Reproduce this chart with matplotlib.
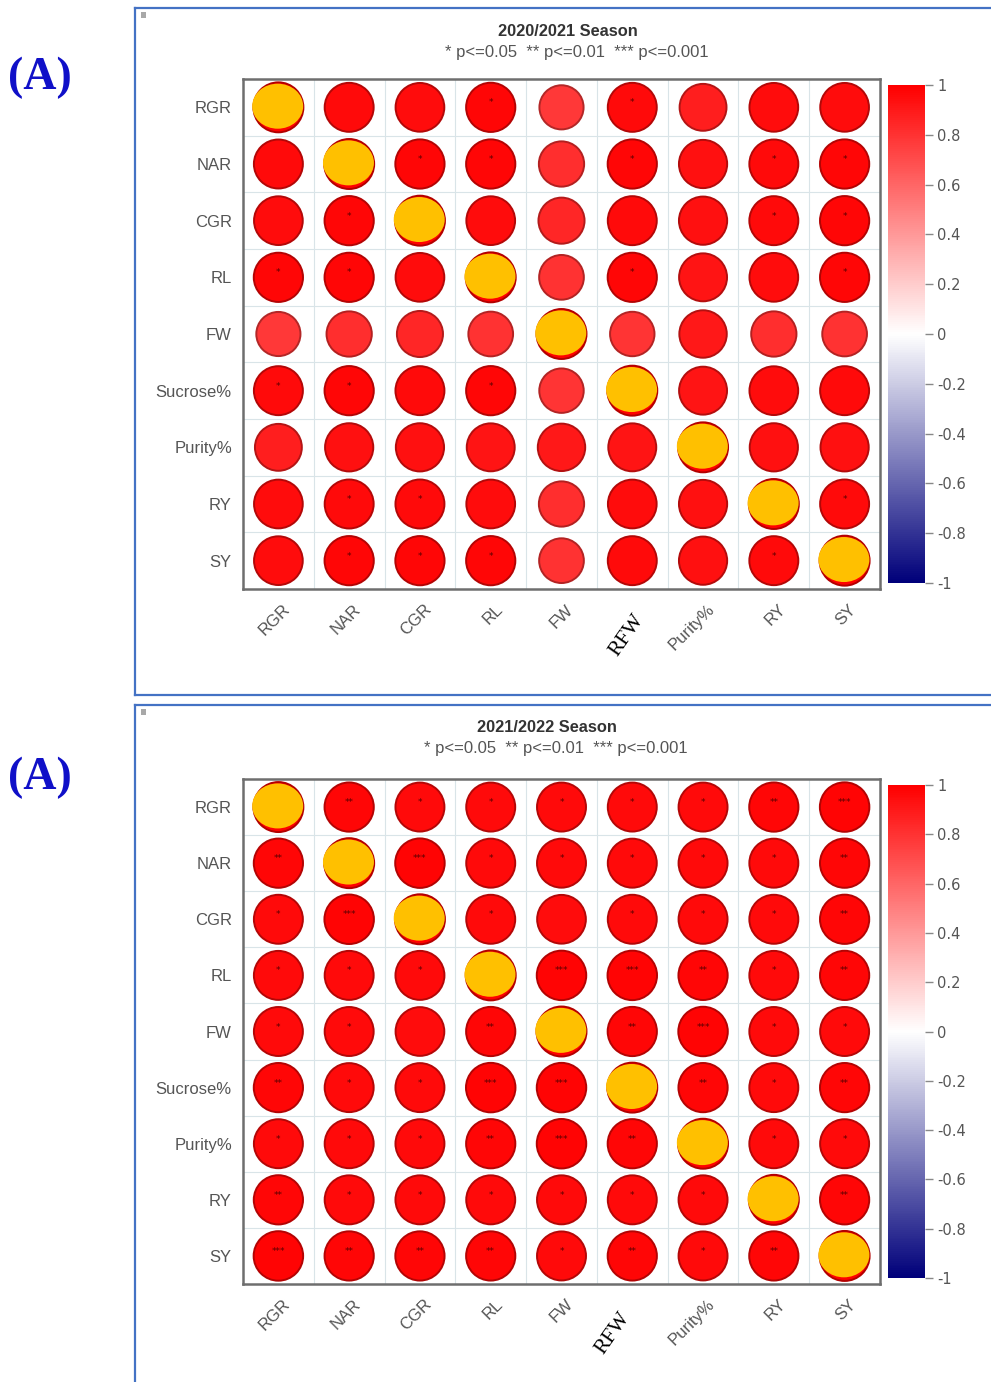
import numpy as np
import matplotlib
matplotlib.use('Agg')
import matplotlib.pyplot as plt
import matplotlib.transforms as mtransforms
from matplotlib.patches import Ellipse, Rectangle
from matplotlib.lines import Line2D
from matplotlib.colors import LinearSegmentedColormap, Normalize
from matplotlib.cm import ScalarMappable

W, H = 991, 1382

# ---- data ----
row_labels = ['RGR', 'NAR', 'CGR', 'RL', 'FW', 'Sucrose%', 'Purity%', 'RY', 'SY']
col_labels = ['RGR', 'NAR', 'CGR', 'RL', 'FW', '', 'Purity%', 'RY', 'SY']
pasted_label = 'RFW'
titles = ['2020/2021 Season', '2021/2022 Season']
subtitle = '* p<=0.05  ** p<=0.01  *** p<=0.001'
panel_tag = '(A)'
cbar_ticks = [1, 0.8, 0.6, 0.4, 0.2, 0, -0.2, -0.4, -0.6, -0.8, -1]
cbar_ticklabels = ['1', '0.8', '0.6', '0.4', '0.2', '0', '-0.2', '-0.4', '-0.6', '-0.8', '-1']

corr_2021 = [
    [1.00, 0.96, 0.95, 0.97, 0.78, 0.96, 0.88, 0.95, 0.95],
    [0.96, 1.00, 0.97, 0.97, 0.82, 0.97, 0.93, 0.96, 0.97],
    [0.95, 0.97, 1.00, 0.95, 0.85, 0.96, 0.93, 0.96, 0.97],
    [0.97, 0.97, 0.95, 1.00, 0.80, 0.97, 0.92, 0.95, 0.97],
    [0.78, 0.82, 0.85, 0.80, 1.00, 0.79, 0.90, 0.82, 0.80],
    [0.96, 0.97, 0.96, 0.97, 0.79, 1.00, 0.92, 0.95, 0.96],
    [0.88, 0.93, 0.93, 0.92, 0.90, 0.92, 1.00, 0.93, 0.93],
    [0.95, 0.96, 0.96, 0.95, 0.82, 0.95, 0.93, 1.00, 0.96],
    [0.95, 0.97, 0.97, 0.97, 0.80, 0.96, 0.93, 0.96, 1.00],
]
stars_2021 = [
    ['', '', '', '*', '', '*', '', '', ''],
    ['', '', '*', '*', '', '*', '', '*', '*'],
    ['', '*', '', '', '', '', '', '*', '*'],
    ['*', '*', '', '', '', '*', '', '', '*'],
    ['', '', '', '', '', '', '', '', ''],
    ['*', '*', '', '*', '', '', '', '', ''],
    ['', '', '', '', '', '', '', '', ''],
    ['', '*', '*', '', '', '', '', '', '*'],
    ['', '*', '*', '*', '', '', '', '*', ''],
]

corr_2022 = [
    [1.00, 0.97, 0.96, 0.96, 0.96, 0.96, 0.96, 0.97, 0.98],
    [0.97, 1.00, 0.98, 0.96, 0.96, 0.96, 0.96, 0.96, 0.97],
    [0.96, 0.98, 1.00, 0.96, 0.95, 0.96, 0.96, 0.96, 0.97],
    [0.96, 0.96, 0.96, 1.00, 0.98, 0.98, 0.97, 0.96, 0.97],
    [0.96, 0.96, 0.95, 0.97, 1.00, 0.97, 0.98, 0.96, 0.96],
    [0.97, 0.96, 0.96, 0.98, 0.98, 1.00, 0.97, 0.96, 0.97],
    [0.96, 0.96, 0.96, 0.97, 0.98, 0.97, 1.00, 0.96, 0.96],
    [0.97, 0.96, 0.96, 0.96, 0.96, 0.96, 0.96, 1.00, 0.97],
    [0.98, 0.97, 0.97, 0.97, 0.96, 0.97, 0.96, 0.97, 1.00],
]
stars_2022 = [
    ['', '**', '*', '*', '*', '*', '*', '**', '***'],
    ['**', '', '***', '*', '*', '*', '*', '*', '**'],
    ['*', '***', '', '*', '', '*', '*', '*', '**'],
    ['*', '*', '*', '', '***', '***', '**', '*', '**'],
    ['*', '*', '', '**', '', '**', '***', '*', '*'],
    ['**', '*', '*', '***', '***', '', '**', '*', '**'],
    ['*', '*', '*', '**', '***', '**', '', '*', '*'],
    ['**', '*', '*', '*', '*', '*', '*', '', '**'],
    ['***', '**', '**', '**', '*', '**', '*', '**', ''],
]

cmap = LinearSegmentedColormap.from_list('corr', ['#00007A', '#FFFFFF', '#FF0000'])
norm = Normalize(-1, 1)

fig = plt.figure(figsize=(W / 100, H / 100), dpi=100)
fig.patch.set_facecolor('white')


def fx(x):
    return x / W


def fy(y):
    return 1 - y / H


def frame(top, bottom):
    c = '#4472C4'
    fig.add_artist(Line2D([fx(135), fx(135)], [fy(top), fy(bottom)], color=c, lw=1.6))
    fig.add_artist(Line2D([fx(135), fx(W)], [fy(top), fy(top)], color=c, lw=1.6))
    if bottom < H:
        fig.add_artist(Line2D([fx(135), fx(W)], [fy(bottom), fy(bottom)], color=c, lw=1.6))
    # small grey mark in the corner of each pasted panel
    fig.add_artist(Rectangle((fx(141), fy(top + 10)), 5 / W, 6 / H,
                             transform=fig.transFigure, facecolor='#A8A8A8', edgecolor='none'))


def corr_panel(corr, stars, title, box, cbox, title_xy, rfw_xy, tag_y):
    corr = np.array(corr)
    n = corr.shape[0]
    x0, y0, x1, y1 = box
    ax = fig.add_axes([fx(x0), fy(y1), (x1 - x0) / W, (y1 - y0) / H])
    ax.set_xlim(0, n)
    ax.set_ylim(n, 0)
    ax.set_facecolor('white')
    for k in range(1, n):
        ax.axhline(k, color='#D9E4E8', lw=0.8, zorder=0)
        ax.axvline(k, color='#D9E4E8', lw=0.8, zorder=0)

    xs, ys = np.meshgrid(np.arange(n) + 0.5, np.arange(n) + 0.5)
    vals = corr.ravel()
    face = cmap(norm(vals))
    edge = face.copy()
    edge[:, :3] *= 0.7
    ax.scatter(xs.ravel(), ys.ravel(), s=1296 * np.abs(vals), c=face,
               edgecolors=edge, linewidths=1.4, zorder=2)

    # diagonal covered with yellow ovals
    cw = (x1 - x0) / n
    ch = (y1 - y0) / n
    for i in range(n):
        ax.add_patch(Ellipse((i + 0.49, i + 0.48), 51 / cw, 45 / ch,
                             facecolor='#FFC000', edgecolor='none', zorder=3))

    for i in range(n):
        for j in range(n):
            if stars[i][j]:
                ax.text(j + 0.5, i + 0.42, stars[i][j], ha='center', va='center',
                        fontsize=6.5, color='#5A0000', zorder=4)

    for s in ax.spines.values():
        s.set_color('#6E6E6E')
        s.set_linewidth(1.8)
    ax.set_xticks([])
    ax.set_yticks(np.arange(n) + 0.5)
    ax.set_yticklabels(row_labels, fontsize=12, color='#555555', family='Liberation Sans')
    ax.tick_params(axis='y', length=0, pad=8)

    trans = mtransforms.blended_transform_factory(ax.transData, ax.transAxes)
    for j, lab in enumerate(col_labels):
        if lab:
            ax.text(j + 0.56, -0.025, lab, transform=trans, rotation=45,
                    rotation_mode='anchor', ha='right', va='top', fontsize=12,
                    color='#555555', family='Liberation Sans')
    fig.text(fx(rfw_xy[0]), fy(rfw_xy[1]), pasted_label, rotation=55, ha='center',
             va='center', fontsize=15.5, color='black', family='Liberation Serif')

    # colour key
    cx0, cy0, cx1, cy1 = cbox
    cax = fig.add_axes([fx(cx0), fy(cy1), (cx1 - cx0) / W, (cy1 - cy0) / H])
    cb = fig.colorbar(ScalarMappable(norm=norm, cmap=cmap), cax=cax, ticks=cbar_ticks)
    cb.set_ticklabels(cbar_ticklabels)
    cb.outline.set_visible(False)
    cax.tick_params(color='#888888', length=6, width=1, labelsize=10.5,
                    labelcolor='#555555', pad=3)

    fig.text(fx(title_xy[0]), fy(title_xy[1]), title, ha='center', va='center',
             fontsize=11.8, fontweight='bold', color='#333333', family='Liberation Sans')
    fig.text(fx(title_xy[0] + 9), fy(title_xy[1] + 21), subtitle, ha='center', va='center',
             fontsize=12, color='#555555', family='Liberation Sans')
    fig.text(fx(40), fy(tag_y), panel_tag, ha='center', va='center', fontsize=33,
             fontweight='bold', color='#1010C8', family='Liberation Serif')


frame(8, 695)
frame(705, H + 5)
corr_panel(corr_2021, stars_2021, titles[0], (243, 79, 880, 589), (888, 85, 925, 583),
           (568, 32), (627, 635), 78)
corr_panel(corr_2022, stars_2022, titles[1], (243, 779, 880, 1284), (888, 785, 925, 1278),
           (547, 727), (613, 1333), 778)

fig.savefig('out.png', dpi=100)
